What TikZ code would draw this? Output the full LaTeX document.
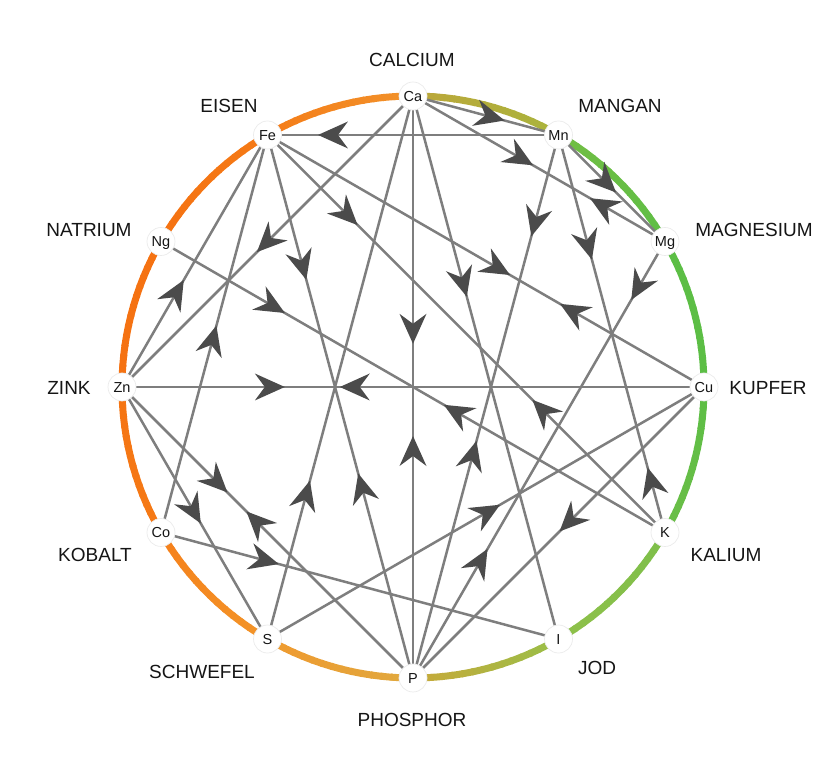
\documentclass[tikz,border=0pt]{standalone}
\usepackage{fontspec}
\setmainfont{Liberation Sans}
\usetikzlibrary{decorations.markings,backgrounds}
\definecolor{edgec}{HTML}{7E7E7E}
\definecolor{headc}{HTML}{4B4B4B}
\definecolor{txtc}{HTML}{151515}
\definecolor{a1}{HTML}{BCA73A}\definecolor{b1}{HTML}{A9B43C}
\definecolor{a2}{HTML}{72BE44}\definecolor{b2}{HTML}{5EBE45}
\definecolor{a3}{HTML}{5CBE45}\definecolor{b3}{HTML}{5CBE45}
\definecolor{a4}{HTML}{5CBE45}\definecolor{b4}{HTML}{6CBE48}
\definecolor{a5}{HTML}{7DBF4A}\definecolor{b5}{HTML}{8FC04A}
\definecolor{a6}{HTML}{98BF48}\definecolor{b6}{HTML}{C8A93A}
\definecolor{a7}{HTML}{E0A93E}\definecolor{b7}{HTML}{F09A30}
\definecolor{a8}{HTML}{F3952A}\definecolor{b8}{HTML}{F5801A}
\definecolor{a9}{HTML}{F57A16}\definecolor{b9}{HTML}{F57413}
\definecolor{a10}{HTML}{F57212}\definecolor{b10}{HTML}{F57212}
\definecolor{a11}{HTML}{F57212}\definecolor{b11}{HTML}{F57A16}
\definecolor{a12}{HTML}{F57C18}\definecolor{b12}{HTML}{F2922A}
\begin{document}
\begin{tikzpicture}[x=1pt,y=1pt,
  elem/.style={circle, fill=white, draw=black!8, line width=0.7pt, minimum size=28pt,
    inner sep=0pt, text height=10.4pt, text depth=0pt, text=txtc,
    font=\fontsize{14.5}{16}\selectfont},
  lab/.style={font=\fontsize{19}{22}\selectfont, text=txtc, inner sep=0pt},
  link/.style={draw=edgec, line width=2.5pt},
  fw/.style={postaction={decorate, decoration={markings,
    mark=at position #1 with {\fill[headc] (15,0) -- (-15,13.5) -- (-5,0) -- (-15,-13.5) -- cycle;}}}},
]
\useasboundingbox (0,0) rectangle (825,763);
% element nodes
\foreach \n/\a in {Ca/90, Mn/60, Mg/30, Cu/0, K/-30, I/-60, P/-90, S/-120, Co/-150, Zn/180, Ng/150, Fe/120}
  \node[elem] (\n) at ({413+291*cos(\a)},{376+291*sin(\a)}) {\n};
% labels
\node[lab] (lCa) at (412,703) {CALCIUM};
\node[lab] (lFe) at (229,657) {EISEN};
\node[lab] (lMn) at (620,657) {MANGAN};
\node[lab] (lNg) at (89,533) {NATRIUM};
\node[lab] (lMg) at (754,533) {MAGNESIUM};
\node[lab] (lZn) at (69,375) {ZINK};
\node[lab] (lCu) at (768,375) {KUPFER};
\node[lab] (lCo) at (95,208) {KOBALT};
\node[lab] (lK) at (726,208) {KALIUM};
\node[lab] (lS) at (202,91) {SCHWEFEL};
\node[lab] (lI) at (597,95) {JOD};
\node[lab] (lP) at (412,43) {PHOSPHOR};
\begin{scope}[on background layer]
  % coloured ring
  \foreach \sa/\i in {90/1,60/2,30/3,0/4,-30/5,-60/6,-90/7,-120/8,-150/9,-180/10,-210/11,-240/12}{
    \foreach \k in {0,...,14}{
      \pgfmathsetmacro\st{\sa-2*\k}
      \pgfmathsetmacro\en{\sa-2*\k-2.4}
      \pgfmathtruncatemacro\pc{100-(\k+0.5)*100/15}
      \draw[line width=7pt, color=a\i!\pc!b\i] ({413+291*cos(\st)},{376+291*sin(\st)})
        arc[start angle=\st, end angle=\en, radius=291];
    }
  }
  % connectors
  \foreach \u/\v in {Ca/Mn, Mn/Fe, Ca/Mg, Mn/Mg, Fe/K, Ca/Zn, Mn/P, Mn/K, Fe/P, Fe/Cu,
      Ca/I, Mg/P, Zn/Fe, Ng/K, Ca/P, Co/Fe, Zn/Cu, S/Ca, Zn/P, Zn/S, Co/I, S/Cu, Cu/P}
    \draw[link] (\u.center) -- (\v.center);
\end{scope}
% arrowheads
\foreach \u/\v/\p in {Ca/Mn/0.53, Mn/Fe/0.775, Ca/Mg/0.425, Mn/Mg/0.44, Mg/Ca/0.246,
    Fe/K/0.20, Ca/Zn/0.50, Mn/P/0.16, Mn/K/0.277, Fe/P/0.24, Fe/Cu/0.526, Ca/I/0.343,
    Mg/P/0.104, Zn/Fe/0.373, Ng/K/0.22, Cu/Fe/0.30, Ca/P/0.40, Co/Fe/0.484, Zn/Cu/0.254,
    Cu/Zn/0.60, K/Ng/0.413, K/Fe/0.307, P/Ca/0.39, P/Mn/0.41, K/Mn/0.127, S/Ca/0.265,
    P/Fe/0.35, Zn/P/0.326, Zn/S/0.49, P/Zn/0.536, Co/I/0.26, S/Cu/0.503, Cu/P/0.46, P/Mg/0.266}
  \path[fw=\p] (\u.center) -- (\v.center);
\end{tikzpicture}
\end{document}
